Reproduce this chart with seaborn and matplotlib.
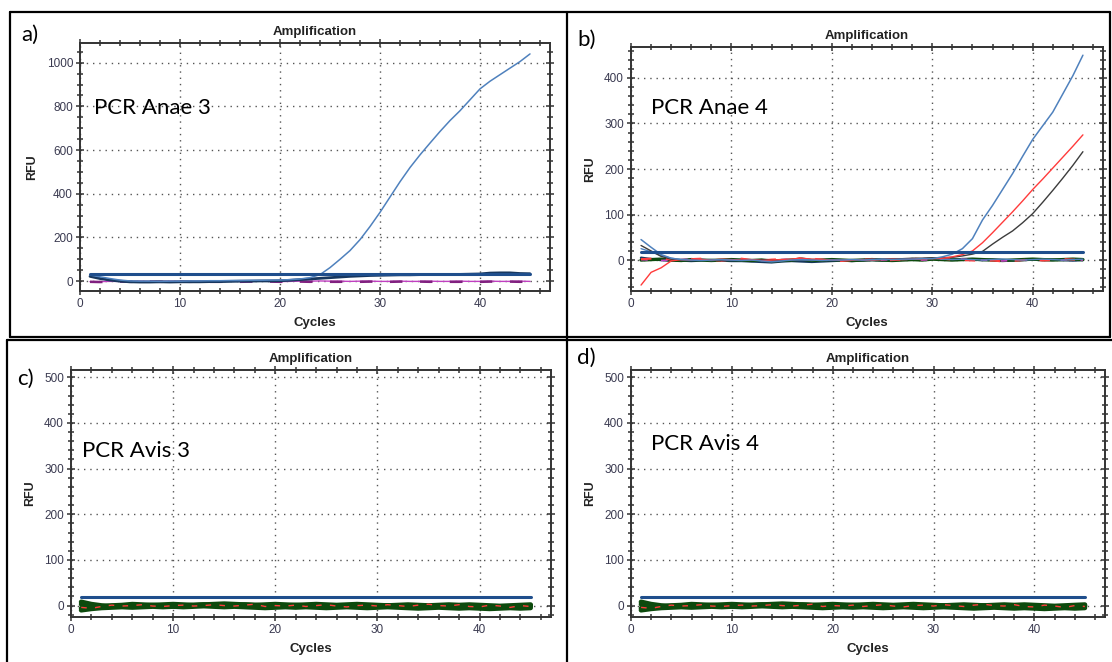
import matplotlib
matplotlib.use("Agg")
import matplotlib.pyplot as plt
from matplotlib.ticker import MultipleLocator
from matplotlib.lines import Line2D
import seaborn as sns

# ---------------- data ----------------
cycles = list(range(1, 46))

# Panel a) PCR Anae 3
a_threshold = 34
a_sample = [28, 20, 12, 5, 1, 0, 0, -1, 0, 0,
            1, 1, 2, 2, 3, 3, 4, 4, 5, 5,
            7, 10, 16, 30, 62, 100, 140, 190, 250, 315,
            385, 455, 520, 578, 632, 685, 735, 780, 830, 880,
            915, 945, 975, 1005, 1040]
a_baseline = [22, 12, 5, 0, -3, -4, -4, -3, -4, -3,
              -3, -3, -2, -2, -1, 0, 0, 1, 1, 2,
              4, 7, 10, 13, 16, 19, 22, 24, 26, 27,
              28, 29, 29, 30, 30, 30, 31, 31, 32, 33,
              37, 38, 38, 35, 34]
a_ntc1 = [-2, -2, -1, -1, -1, 0, -1, -1, 0, -1,
          -1, 0, -1, -1, 0, -1, -1, 0, -1, -2,
          -1, 0, 0, 1, 0, 0, -1, 0, 0, -1,
          -1, 0, -1, -1, 0, -1, -1, 0, -1, -1,
          0, -1, -1, 0, -1]
a_ntc2 = [-3, -4, -3, -2, -3, -3, -2, -3, -3, -2,
          -3, -2, -3, -3, -2, -3, -2, -3, -2, -3,
          -2, -2, -3, -2, -3, -3, -2, -3, -2, -3,
          -3, -2, -3, -2, -3, -2, -3, -3, -2, -3,
          -2, -3, -2, -3, -2]

# Panel b) PCR Anae 4
b_threshold = 18
b_blue = [45, 28, 12, 4, 1, 0, -1, 0, 1, 0,
          -1, 0, -2, -4, -2, 0, 1, 0, -1, 0,
          0, 1, 0, 1, 2, 1, 2, 2, 3, 3,
          7, 13, 25, 47, 88, 120, 155, 190, 228, 265,
          295, 325, 365, 405, 450]
b_red = [-55, -27, -17, -2, 1, 0, 1, 0, 2, 1,
         0, 1, -1, 0, 1, 2, 4, 2, 1, 0,
         -1, 0, 1, 0, 1, 2, 1, 2, 3, 3,
         4, 7, 12, 20, 38, 60, 83, 106, 130, 155,
         178, 202, 226, 250, 275]
b_black = [32, 20, 8, 2, 0, 1, 0, -1, 0, 1,
           0, 0, 1, 0, -1, 0, 1, 0, 0, 1,
           0, 1, 1, 2, 2, 3, 3, 4, 4, 5,
           5, 6, 9, 13, 19, 35, 50, 64, 82, 102,
           127, 153, 180, 208, 238]
b_lightblue = [25, 18, 10, 4, 1, 0, 0, -1, 0, 0,
               0, 0, -1, -2, -1, 0, 0, -1, 0, 0,
               0, 0, 1, 0, 1, 2, 1, 2, 3, 4,
               2, 1, 2, 1, 0, 1, 2, 1, 0, 1,
               2, 1, 0, 1, 2]
b_neg_red = [2, 3, 4, 1, 0, 2, 3, 0, -1, 1,
             3, 0, -1, 1, 2, 0, 5, 3, 1, -1,
             -2, 0, 1, 2, -1, 0, 1, 3, 2, 4,
             3, 1, 0, -1, -2, -1, -3, -2, 0, 1,
             -1, 0, 2, 1, 0]
b_neg_green = [0, 1, 2, 0, -1, 1, 0, -1, 0, 1,
               0, -1, 0, -2, -1, 0, 2, -1, 0, 1,
               0, -1, 0, 1, 0, -1, 0, 1, 0, 2,
               1, 0, 1, 2, 1, 0, -1, 0, 1, 2,
               1, 0, 1, 2, 1]
b_neg_magenta = [1, 0, -1, 0, 1, 2, 1, 0, -1, 0,
                 1, 0, -1, 0, 1, 2, 3, 1, 0, -1,
                 0, 1, 0, -1, 0, 1, 2, 1, 0, 1,
                 2, 3, 2, 1, 0, -1, -2, -1, 0, 1,
                 0, -1, 0, 1, 0]
b_neg_navy = [5, 2, 0, -1, -1, -2, -1, 0, -1, -2,
              -2, -3, -4, -5, -3, -2, -3, -4, -3, -2,
              -1, -2, -1, 0, -1, 0, 1, 2, 2, 3,
              2, 1, 2, 1, 0, 1, 0, -1, 0, 1,
              0, 1, 0, -1, 0]

# Panels c) PCR Avis 3 and d) PCR Avis 4 (traces look identical)
avis_threshold = 18
avis_green1 = [8, 3, 0, -1, -2, -1, 0, 1, 0, -1,
               0, 1, 2, 1, 0, 1, 2, 1, 0, -1,
               0, 1, 0, -1, -2, -1, 0, -1, -2, -1,
               0, -1, -2, -1, 0, -1, -2, -3, -2, -1,
               -2, -3, -2, -1, 0]
avis_green2 = [-10, -7, -5, -4, -3, -4, -3, -2, -3, -2,
               -3, -2, -1, -2, -3, -2, -3, -4, -5, -4,
               -3, -4, -3, -4, -5, -4, -3, -4, -5, -4,
               -3, -4, -5, -6, -5, -4, -5, -6, -5, -6,
               -7, -6, -5, -6, -5]
avis_green3 = [3, -1, -3, 0, 1, 3, 2, 1, 2, 3,
               2, 1, 2, 3, 4, 3, 2, 1, 2, 3,
               2, 1, 2, 3, 2, 1, 2, 3, 2, 1,
               0, 1, 2, 1, 0, 1, 2, 1, 2, 1,
               0, -1, 0, 1, 2]
avis_green4 = [-6, -4, -3, -2, -1, -2, -1, 0, -1, 0,
               -1, 0, 1, 0, -1, 0, -1, -2, -1, -2,
               -1, -2, -1, -2, -3, -2, -1, -2, -3, -2,
               -1, -2, -3, -2, -1, -2, -3, -4, -3, -2,
               -3, -4, -3, -2, -1]
avis_red = [-4, -6, -2, 1, -1, 0, 2, -1, -2, 0,
            1, -1, 0, 2, 0, -1, 1, 3, -2, 0,
            -1, 1, -2, 0, 2, -1, -3, 0, 1, -1,
            2, 0, -2, 1, 3, 0, -1, 2, -2, -3,
            1, -1, -4, 0, -2]
avis_magenta = [2, 0, -2, -1, 0, 1, -1, 0, 1, -1,
                0, 1, -1, 0, 1, 0, -1, 1, 0, -2,
                -1, 0, 1, -1, 0, 1, -1, 0, 1, 0,
                -1, 0, 1, 2, 0, -1, 0, 1, -1, 0,
                1, 0, -1, 0, -1]
avis_blue = [6, 1, -1, 0, 1, 2, 1, 0, 1, 2,
             1, 0, 1, 2, 1, 0, 1, 0, -1, 0,
             1, 0, -1, 0, 1, 0, -1, 0, 1, 2,
             3, 1, 0, 1, 0, -1, 0, 1, 0, 1,
             0, -1, 0, 1, 0]

panel_letters = ["a)", "b)", "c)", "d)"]
panel_names = ["PCR Anae 3", "PCR Anae 4", "PCR Avis 3", "PCR Avis 4"]

# ---------------- style ----------------
sns.set_theme(style="white")
plt.rcParams['font.family'] = ['Liberation Sans', 'DejaVu Sans']

W, H = 1112, 662
fig = plt.figure(figsize=(W / 100, H / 100), dpi=100)

NAVY = "#1f4e8c"
LIGHTBLUE = "#4f81bd"
RED = "#ff3b3b"
BLACK = "#3c3c3c"
GREEN = "#0d4a0d"
MAGENTA = "#c040c0"
PURPLE = "#80207f"
TICKC = "#3a3a50"


def px_axes(l, t, r, b):
    return fig.add_axes([l / W, 1 - b / H, (r - l) / W, (b - t) / H])


def line(ax, y, color, lw, ls="-", z=2):
    sns.lineplot(x=cycles, y=y, ax=ax, color=color, linewidth=lw,
                 linestyle=ls, legend=False, errorbar=None, sort=False, zorder=z)


def thresh(ax, value):
    sns.lineplot(x=[cycles[0], cycles[-1]], y=[value, value], ax=ax,
                 color=NAVY, linewidth=2.2, legend=False, errorbar=None, zorder=3)


def style(ax, ylim, ymaj, ymin):
    ax.set_xlim(0, 47)
    ax.set_ylim(*ylim)
    ax.xaxis.set_major_locator(MultipleLocator(10))
    ax.xaxis.set_minor_locator(MultipleLocator(2))
    ax.yaxis.set_major_locator(MultipleLocator(ymaj))
    ax.yaxis.set_minor_locator(MultipleLocator(ymin))
    ax.grid(True, which="major", linestyle=(0, (1, 3.5)), color="#555555", lw=1.0)
    ax.set_axisbelow(True)
    ax.tick_params(which="both", direction="inout", length=6, width=1.1,
                   color="#333333", labelcolor=TICKC, labelsize=8.5,
                   bottom=True, left=True, top=True, right=True, pad=2)
    ax.tick_params(which="minor", length=5)
    ax.tick_params(which="both", axis="x", top=True, labeltop=False)
    ax.tick_params(which="both", axis="y", right=True, labelright=False)
    for s in ax.spines.values():
        s.set_color("#333333")
        s.set_linewidth(1.4)
    ax.set_title("Amplification", fontsize=9.5, fontweight="bold", pad=6, color="#222222")
    ax.set_xlabel("Cycles", fontsize=9.5, fontweight="bold", labelpad=5, color="#222222")
    ax.set_ylabel("RFU", fontsize=9, fontweight="bold", labelpad=6, color="#222222")


# ---- panel a ----
ax_a = px_axes(80, 43, 550, 291)
line(ax_a, a_ntc1, MAGENTA, 1.0)
line(ax_a, a_ntc2, PURPLE, 1.8, ls=(0, (5, 7)))
line(ax_a, a_baseline, "#17375e", 2.0)
line(ax_a, a_sample, LIGHTBLUE, 1.1)
thresh(ax_a, a_threshold)
style(ax_a, (-45, 1090), 200, 50)

# ---- panel b ----
ax_b = px_axes(631, 47, 1103, 291)
line(ax_b, b_neg_navy, "#17375e", 1.8)
line(ax_b, b_neg_green, GREEN, 2.4)
line(ax_b, b_neg_magenta, MAGENTA, 1.2, ls=(0, (4, 8)))
line(ax_b, b_neg_red, RED, 1.5, ls=(0, (5, 7)))
line(ax_b, b_lightblue, LIGHTBLUE, 1.0)
line(ax_b, b_black, BLACK, 1.0)
line(ax_b, b_red, RED, 1.0)
line(ax_b, b_blue, LIGHTBLUE, 1.1)
thresh(ax_b, b_threshold)
style(ax_b, (-68, 468), 100, 20)

# ---- panels c, d ----
for (l, t, r, b) in [(71, 370, 551, 617), (631, 370, 1105, 617)]:
    ax = px_axes(l, t, r, b)
    line(ax, avis_blue, LIGHTBLUE, 1.2)
    line(ax, avis_magenta, MAGENTA, 1.2)
    line(ax, avis_green2, GREEN, 3.5)
    line(ax, avis_green4, GREEN, 3.5)
    line(ax, avis_green1, GREEN, 3.5)
    line(ax, avis_green3, GREEN, 3.5)
    line(ax, avis_red, RED, 1.0, ls=(0, (4, 6)))
    thresh(ax, avis_threshold)
    style(ax, (-25, 516), 100, 20)

# ---- frames ----
def fline(x0, y0, x1, y1, lw=1.6):
    fig.add_artist(Line2D([x0 / W, x1 / W], [1 - y0 / H, 1 - y1 / H],
                          color="black", lw=lw))

fline(10, 12, 1110, 12)
fline(10, 337, 1110, 337)
fline(7, 340, 1112, 340)
fline(10, 12, 10, 337)
fline(7, 340, 7, 662)
fline(567, 12, 567, 662)
fline(1110, 12, 1110, 337)

# ---- panel letters and names ----
hand = ["Lato", "DejaVu Sans"]
letter_pos = [(21, 35), (577, 40), (17, 379), (577, 358)]
name_pos = [(94, 108), (651, 108), (82, 451), (651, 444)]
for txt, (x, y) in zip(panel_letters, letter_pos):
    fig.text(x / W, 1 - y / H, txt, family=hand, fontsize=16,
             ha="left", va="center", color="black")
for txt, (x, y) in zip(panel_names, name_pos):
    fig.text(x / W, 1 - y / H, txt, family=hand, fontsize=16,
             ha="left", va="center", color="black")

fig.savefig("out.png", dpi=100)
